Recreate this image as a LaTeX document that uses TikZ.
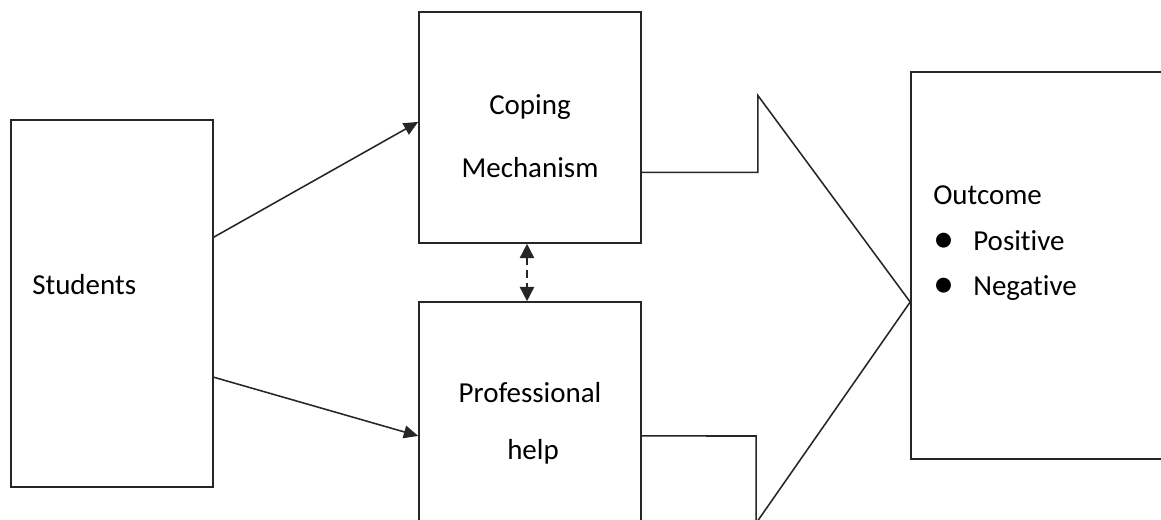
\documentclass[tikz,border=0pt]{standalone}
\usepackage{fontspec}
\setmainfont[Ligatures=NoCommon]{Carlito}
\usepackage{tikz}
\usetikzlibrary{arrows.meta,calc}
\definecolor{CLine}{HTML}{262626}
\tikzstyle{boxNode}=[rectangle, draw=CLine, line width=1.1pt, inner sep=0pt]
\tikzstyle{textNode}=[inner sep=0pt, font=\fontsize{20.6pt}{24pt}\selectfont]
\tikzstyle{arr}=[-{Triangle[length=3.6mm, width=3.2mm]}, line width=1.1pt, draw=CLine]
\tikzstyle{dashArr}=[{Triangle[length=3.6mm, width=3.6mm]}-{Triangle[length=3.6mm, width=3.6mm]},
  line width=1.1pt, draw=CLine, dash pattern=on 5pt off 4pt]
\newcommand{\outItem}[1]{\makebox[1cm][l]{\fontsize{30pt}{30pt}\selectfont\raisebox{-0.06em}{\textbullet}}#1}

\begin{document}
\begin{tikzpicture}[x=0.025cm, y=-0.025cm]
\clip (0,0) rectangle (1161,519);
\fill[white] (0,0) rectangle (1161,519);
% boxes
\node[boxNode, minimum width=5.05cm, minimum height=9.175cm] (students) at (112,303.5) {};
\node[boxNode, minimum width=5.55cm, minimum height=5.775cm] (coping) at (530,127.5) {};
\node[boxNode, minimum width=5.55cm, minimum height=6.45cm] (professional) at (530,431) {};
\node[boxNode, minimum width=7.225cm, minimum height=9.675cm] (outcome) at (1055.5,265.5) {};
% texts
\node[textNode, anchor=base west] (studentsText) at (32,294) {Students};
\node[textNode, anchor=base] (copingText) at (530,114) {Coping};
\node[textNode, anchor=base] (mechanismText) at (530,177) {Mechanism};
\node[textNode, anchor=base] (professionalText) at (530,402) {Professional};
\node[textNode, anchor=base] (helpText) at (533,459) {help};
\node[textNode, anchor=base west] (outcomeText) at (933,204) {Outcome};
\node[textNode, anchor=base west] (positiveText) at (933,250) {\outItem{Positive}};
\node[textNode, anchor=base west] (negativeText) at (933,295) {\outItem{Negative}};
% connectors
\draw[arr] ($(students.north east)!0.32!(students.south east)$) -- ($(coping.north west)!0.476!(coping.south west)$);
\draw[arr] ($(students.north east)!0.70!(students.south east)$) -- ($(professional.north west)!0.519!(professional.south west)$);
\draw[dashArr] ([xshift=-0.075cm]coping.south) -- ([xshift=-0.075cm]professional.north);
% big arrow
\coordinate (tip) at ($(outcome.west)+(0,36.5)$);
\draw[CLine, line width=1.1pt, line join=miter]
  ($(coping.north east)!0.693!(coping.south east)$) -- ++(116,0) -- ++(0,-77) -- (tip)
  -- ++(-154,221) -- ++(0,-87) -- ($(professional.north east)!0.519!(professional.south east)$);
\end{tikzpicture}
\end{document}
